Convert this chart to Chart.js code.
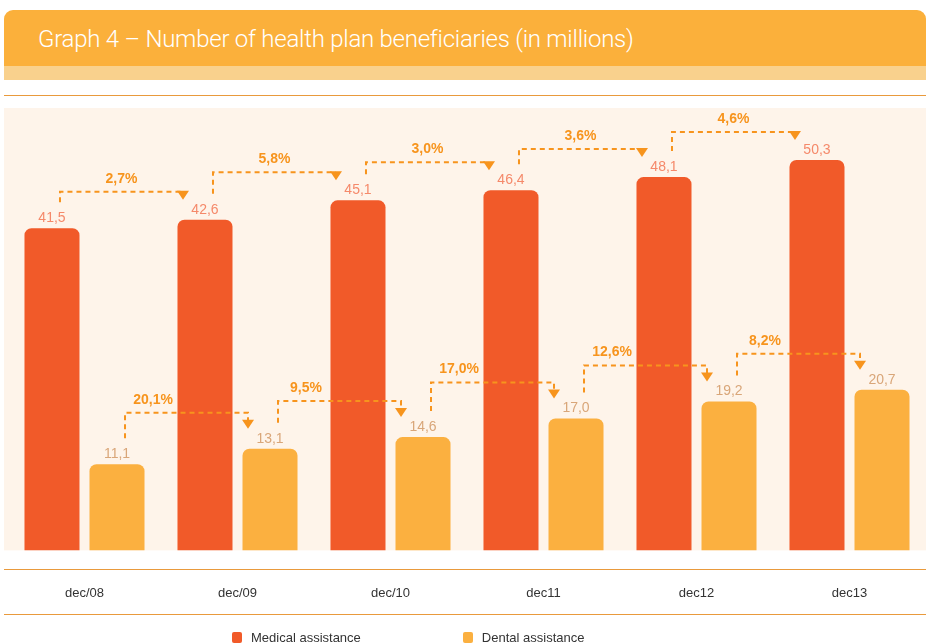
<!DOCTYPE html>
<html>
<head>
<meta charset="utf-8">
<title>Health plan beneficiaries</title>
<script src="https://cdn.jsdelivr.net/npm/chart.js@4.4.1/dist/chart.umd.min.js"></script>
<style>
  body { margin: 0; background: #fff; width: 926px; height: 644px; overflow: hidden; position: relative; font-family: "Liberation Sans", Arial, sans-serif; }
  .head { position: absolute; left: 4px; top: 10px; width: 922px; height: 56px; background: #fbb03b; border-radius: 9px 9px 0 0; }
  .head h1 { margin: 0; position: absolute; left: 34px; top: 15px; color: #fff; font: 300 24px Roboto, "Liberation Sans", sans-serif; letter-spacing: -0.25px; }
  .band { position: absolute; left: 4px; top: 66px; width: 922px; height: 14px; background: #f9d18d; }
  .chart-box { position: absolute; left: 0; top: 0; width: 926px; height: 644px; }
  .legend { position: absolute; top: 630px; left: 232px; display: flex; gap: 102px; font-size: 13px; color: #333; }
  .legend span { display: flex; align-items: center; }
  .legend i { display: inline-block; width: 10px; height: 11px; border-radius: 2px; margin-right: 9px; }
</style>
</head>
<body>
<div class="head"><h1>Graph 4 – Number of health plan beneficiaries (in millions)</h1></div>
<div class="band"></div>
<div class="chart-box"><canvas id="beneficiariesChart" width="926" height="644"></canvas></div>
<div class="legend">
  <span><i style="background:#f15a29"></i>Medical assistance</span>
  <span><i style="background:#fbb040"></i>Dental assistance</span>
</div>

<script>
const years = ['dec/08', 'dec/09', 'dec/10', 'dec11', 'dec12', 'dec13'];
const medical = [41.5, 42.6, 45.1, 46.4, 48.1, 50.3];
const dental = [11.1, 13.1, 14.6, 17.0, 19.2, 20.7];
// year-on-year growth, as published
const medicalGrowth = ['2,7%', '5,8%', '3,0%', '3,6%', '4,6%'];
const dentalGrowth = ['20,1%', '9,5%', '17,0%', '12,6%', '8,2%'];

const ORANGE = '#f7941d';

function fmt(v) {
    return v.toFixed(1).replace('.', ',');
}

// cream panel behind the bars plus the rules above and below the labels
const panelPlugin = {
    id: 'panel',
    beforeDraw(chart) {
        const c = chart.ctx;
        const area = chart.chartArea;
        c.save();
        c.fillStyle = '#fef4ea';
        c.fillRect(4, area.top, chart.width - 4, area.bottom - area.top);
        c.strokeStyle = '#e99a3c';
        c.lineWidth = 1;
        [95.5, 569.5, 614.5].forEach(y => {
            c.beginPath();
            c.moveTo(4, y);
            c.lineTo(chart.width, y);
            c.stroke();
        });
        c.restore();
    }
};

// value labels and the dashed growth connectors
const labelPlugin = {
    id: 'labels',
    afterDatasetsDraw(chart) {
        const c = chart.ctx;
        c.save();
        chart.data.datasets.forEach((ds, di) => {
            const bars = chart.getDatasetMeta(di).data;
            const growth = di === 0 ? medicalGrowth : dentalGrowth;
            const rise = di === 0 ? 28 : 36;

            // dashed connectors between consecutive bars
            for (let i = 0; i < bars.length - 1; i++) {
                const a = bars[i], b = bars[i + 1];
                const x1 = a.x + 8;
                const x2 = b.x - 22;
                const yTop = Math.min(a.y, b.y) - rise;
                const yStart = a.y - 26;
                const tip = b.y - 20;
                c.strokeStyle = ORANGE;
                c.lineWidth = 2;
                c.setLineDash([5, 4]);
                c.beginPath();
                c.moveTo(x1, yStart);
                c.lineTo(x1, yTop);
                c.lineTo(x2, yTop);
                c.lineTo(x2, tip - 8);
                c.stroke();
                c.setLineDash([]);
                c.fillStyle = ORANGE;
                c.beginPath();
                c.moveTo(x2 - 6, tip - 9);
                c.lineTo(x2 + 6, tip - 9);
                c.lineTo(x2, tip);
                c.closePath();
                c.fill();

                c.font = 'bold 14px "Liberation Sans", Arial, sans-serif';
                c.textAlign = 'center';
                c.textBaseline = 'alphabetic';
                const lx = di === 0 ? (x1 + x2) / 2 : x1 + 28;
                c.fillText(growth[i], lx, yTop - 9);
            }

            // value above each bar
            c.font = '14px "Liberation Sans", Arial, sans-serif';
            c.fillStyle = di === 0 ? '#f5896a' : '#d9a679';
            c.textAlign = 'center';
            c.textBaseline = 'alphabetic';
            bars.forEach((bar, i) => {
                c.fillText(fmt(ds.data[i]), bar.x, bar.y - 6);
            });
        });
        c.restore();
    }
};

const ctx = document.getElementById('beneficiariesChart').getContext('2d');
const chart = new Chart(ctx, {
    type: 'bar',
    data: {
        labels: years,
        datasets: [{
            label: 'Medical assistance',
            data: medical,
            backgroundColor: '#f15a29',
            borderRadius: { topLeft: 7, topRight: 7 },
            borderSkipped: 'bottom'
        }, {
            label: 'Dental assistance',
            data: dental,
            backgroundColor: '#fbb040',
            borderRadius: { topLeft: 7, topRight: 7 },
            borderSkipped: 'bottom'
        }]
    },
    options: {
        responsive: false,
        animation: false,
        categoryPercentage: 0.85,
        barPercentage: 0.846,
        layout: { padding: { top: 108, left: 8, right: 0, bottom: 16 } },
        plugins: {
            legend: { display: false },
            tooltip: { enabled: false }
        },
        scales: {
            x: {
                grid: { display: false },
                border: { display: false },
                ticks: {
                    padding: 27,
                    color: '#333',
                    font: { size: 13, family: '"Liberation Sans", Arial, sans-serif' }
                }
            },
            y: {
                display: false,
                min: 0,
                max: 57
            }
        }
    },
    plugins: [panelPlugin, labelPlugin]
});
</script>
</body>
</html>
